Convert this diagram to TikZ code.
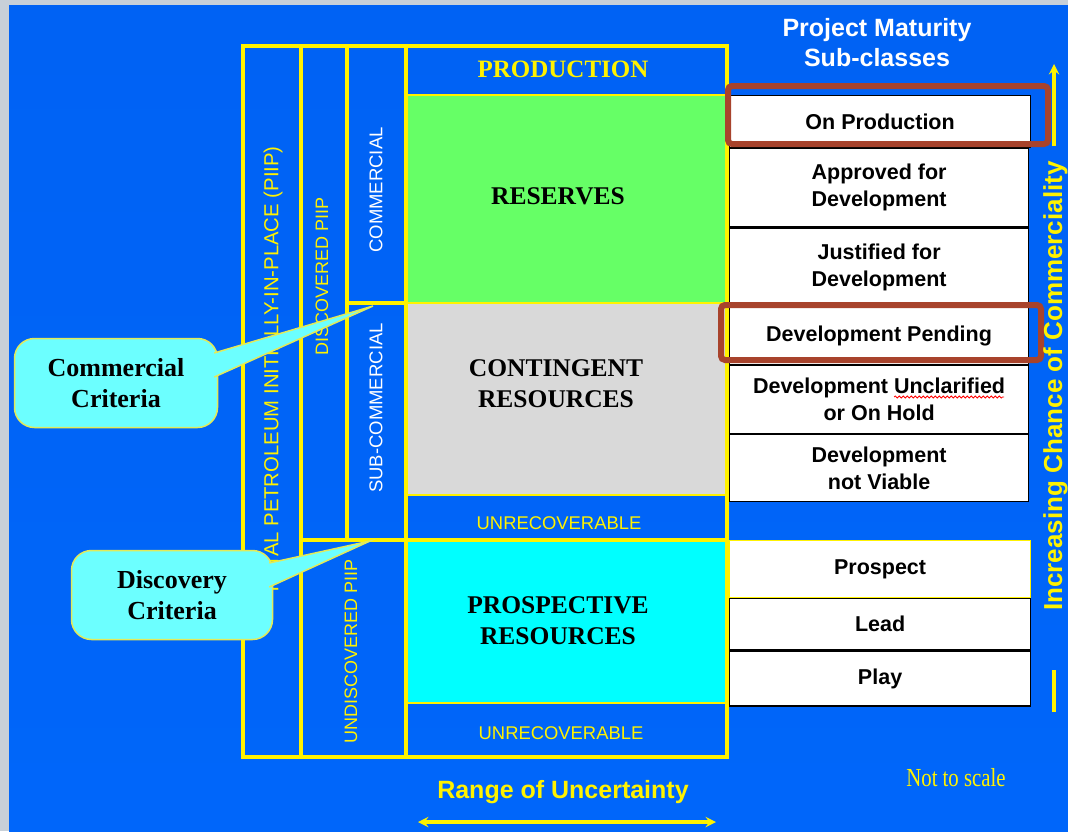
\documentclass[tikz,border=0pt]{standalone}
\usepackage[svgnames]{xcolor}
\usepackage{fontspec}
\setmainfont{Liberation Serif}
\setsansfont{Liberation Sans}
\newfontfamily\narrowserif[FakeStretch=0.8]{Liberation Serif}
\usepackage{tikz}
\usetikzlibrary{shapes.geometric, arrows, calc, decorations.pathmorphing}
\definecolor{margin}{HTML}{C8D0D8}
\definecolor{slidetop}{HTML}{0062F4}
\definecolor{slidemid}{HTML}{0050CC}
\definecolor{slidebot}{HTML}{0066FA}
\definecolor{resgreen}{HTML}{66FF66}
\definecolor{congray}{HTML}{D9D9D9}
\definecolor{prospcyan}{HTML}{00FFFF}
\definecolor{calloutfill}{HTML}{6CFFFF}
\definecolor{calloutline}{HTML}{E2EA5A}
\definecolor{brick}{HTML}{A8432C}
\tikzstyle{grid} = [draw=yellow, line width=3.5pt]
\tikzstyle{cell} = [draw=yellow, line width=2pt]
\tikzstyle{sub} = [rectangle, draw=black, fill=white, line width=1.2pt, minimum width=299pt, inner sep=0pt, anchor=north west, align=center, font=\sffamily\bfseries\fontsize{21.5}{27}\selectfont]
\tikzstyle{vlabel} = [rotate=90, font=\sffamily\fontsize{18.5}{20}\selectfont]
\tikzstyle{big} = [align=center, font=\bfseries\fontsize{25.5}{31}\selectfont]
\tikzstyle{callout} = [rectangle, rounded corners=20pt, fill=calloutfill, draw=calloutline, line width=1.5pt, minimum width=203pt, minimum height=89pt, align=center, font=\bfseries\fontsize{26}{31}\selectfont]
\tikzstyle{tail} = [fill=calloutfill, draw=calloutline, line width=1.5pt]
\tikzstyle{redbox} = [draw=brick, line width=6pt, rounded corners=4pt]
\tikzstyle{arrow} = [yellow, line width=3.5pt, ->, >=stealth]

\begin{document}
\begin{tikzpicture}[x=1pt, y=-1pt]
  \useasboundingbox (0,0) rectangle (1068,831);
  \fill[margin] (0,0) rectangle (1068,831);
  \shade[top color=slidetop, middle color=slidemid, bottom color=slidebot] (9,5) rectangle (1068,831);

  % resource classes
  \filldraw[cell, fill=resgreen] (406,95) rectangle (727,303);
  \filldraw[cell, fill=congray] (406,303) rectangle (727,495);
  \filldraw[cell, fill=prospcyan] (406,540) rectangle (727,703);
  \draw[cell] (406,495) -- (727,495);
  \draw[cell] (406,703) -- (727,703);

  % frame
  \draw[grid] (243,46) rectangle (727,757);
  \draw[grid] (301,46) -- (301,757);
  \draw[grid] (347,46) -- (347,540);
  \draw[grid] (406,46) -- (406,757);
  \draw[grid] (347,303) -- (406,303);
  \draw[grid] (301,540) -- (727,540);

  \node (10) [vlabel, yellow, font=\sffamily\fontsize{20.3}{22}\selectfont] at (273,371) {TOTAL PETROLEUM INITIALLY-IN-PLACE (PIIP)};
  \node (11) [vlabel, yellow, font=\sffamily\fontsize{18}{20}\selectfont] at (322,276) {DISCOVERED PIIP};
  \node (12) [vlabel, white] at (376,190) {COMMERCIAL};
  \node (13) [vlabel, white] at (376,408) {SUB-COMMERCIAL};
  \node (14) [vlabel, yellow, font=\sffamily\fontsize{18}{20}\selectfont] at (351,651) {UNDISCOVERED PIIP};

  \node (15) [big, yellow, font=\bfseries\fontsize{25}{30}\selectfont] at (563,69) {PRODUCTION};
  \node (16) [big] at (558,196) {RESERVES};
  \node (17) [big] at (556,384) {CONTINGENT\\RESOURCES};
  \node (18) [yellow, font=\sffamily\fontsize{18.4}{20}\selectfont] at (559,523) {UNRECOVERABLE};
  \node (19) [big] at (558,621) {PROSPECTIVE\\RESOURCES};
  \node (20) [yellow, font=\sffamily\fontsize{18.4}{20}\selectfont] at (561,733) {UNRECOVERABLE};

  % project maturity sub-classes
  \node (21) [white, align=center, font=\sffamily\bfseries\fontsize{25}{30}\selectfont] at (877,43) {Project Maturity\\Sub-classes};
  \node (1) [sub, minimum width=301pt, minimum height=52pt] at (729,95) {On Production};
  \node (2) [sub, minimum height=78pt] at (1.south west) {Approved for\\Development};
  \node (3) [sub, minimum height=78pt] at (2.south west) {Justified for\\Development};
  \node (4) [sub, minimum height=57pt] at (3.south west) {Development Pending};
  \node (5) [sub, minimum height=68pt] at (4.south west) {Development Unclarified\\or On Hold};
  \node (6) [sub, minimum height=67pt] at (5.south west) {Development\\not Viable};
  \node (7) [sub, draw=yellow, minimum width=301pt, minimum height=57pt] at (729,540) {Prospect};
  \node (8) [sub, minimum width=301pt, minimum height=51pt] at (7.south west) {Lead};
  \node (9) [sub, minimum width=301pt, minimum height=55pt] at (8.south west) {Play};
  \draw[red, line width=0.8pt, decorate, decoration={snake, amplitude=1pt, segment length=4pt}] (894,397) -- (1004,397);

  \draw[redbox] (728,86) rectangle (1048,144);
  \draw[redbox] (721,305) rectangle (1041,360);

  % chance of commerciality
  \node (22) [rotate=90, anchor=base, yellow, font=\sffamily\bfseries\fontsize{26}{30}\selectfont] at (1062,386) {Increasing Chance of Commerciality};
  \coordinate (a1) at (1054,712);
  \coordinate (a2) at (1054,670);
  \coordinate (a3) at (1054,146);
  \coordinate (a4) at (1054,64);
  \draw[yellow, line width=3.5pt] (a1) -- (a2);
  \draw[arrow] (a3) -- (a4);

  % range of uncertainty
  \node (23) [yellow, font=\sffamily\bfseries\fontsize{25}{30}\selectfont] at (563,792) {Range of Uncertainty};
  \coordinate (r1) at (418,822);
  \coordinate (r2) at (716,822);
  \draw[arrow, <->] (r1) -- (r2);
  \node (24) [yellow, font=\narrowserif\fontsize{26}{30}\selectfont] at (956,778) {Not to scale};

  % criteria callouts
  \node (25) [callout] at (116,383) {Commercial\\Criteria};
  \coordinate (t1) at (373,306);
  \filldraw[tail] ($(25.east)+(-4,-30)$) -- (t1) -- ($(25.east)+(-4,-6)$);
  \node (26) [callout, minimum width=201pt] at (172,595) {Discovery\\Criteria};
  \coordinate (t2) at (370,541);
  \filldraw[tail] ($(26.east)+(-4,-32)$) -- (t2) -- ($(26.east)+(-4,-8)$);
\end{tikzpicture}
\end{document}
